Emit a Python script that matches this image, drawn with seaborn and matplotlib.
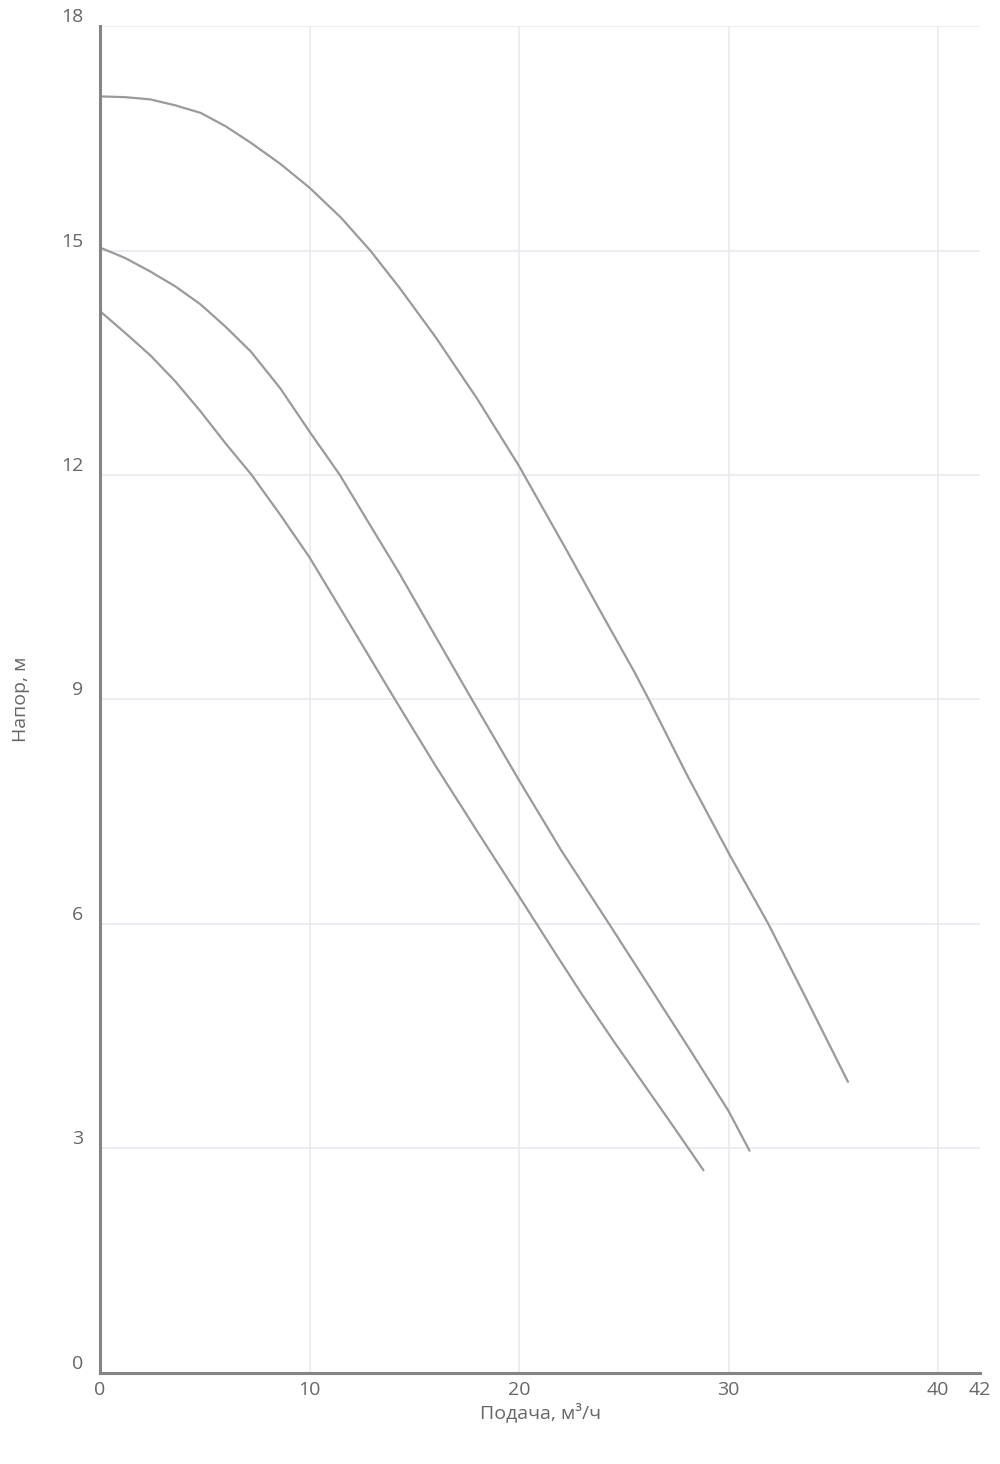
import pandas as pd
import seaborn as sns
import matplotlib.pyplot as plt

# values (flow m3/h, head m)
q_top = [0, 1.2, 2.4, 3.6, 4.8, 6, 7.2, 8.6, 10, 11.5, 12.9, 14.3, 16, 18, 20,
         22.3, 23.9, 25.5, 26.25, 28, 30, 31.9, 33.8, 35.7]
h_top = [17.06, 17.05, 17.02, 16.94, 16.84, 16.66, 16.44, 16.16, 15.84, 15.44, 15.0, 14.5,
         13.85, 13.02, 12.12, 10.98, 10.17, 9.37, 8.97, 8.0, 6.95, 6.0, 4.95, 3.89]

q_mid = [0, 1.2, 2.4, 3.6, 4.8, 6, 7.2, 8.6, 10, 11.45, 13, 14.3, 16, 17.75,
         20, 22, 24.3, 26, 28.2, 30, 31.0]
h_mid = [15.04, 14.9, 14.72, 14.52, 14.28, 13.98, 13.65, 13.16, 12.58, 12.0, 11.28, 10.68,
         9.85, 9.0, 7.92, 6.99, 6.0, 5.26, 4.3, 3.5, 2.97]

q_low = [0, 1.2, 2.4, 3.6, 4.8, 6, 7.24, 8.6, 10, 12, 14.08, 16, 18, 20,
         21.5, 23, 24.5, 26, 27.4, 28.8]
h_low = [14.19, 13.9, 13.6, 13.25, 12.85, 12.42, 12.0, 11.47, 10.9, 9.97, 9.0, 8.12,
         7.24, 6.37, 5.71, 5.06, 4.44, 3.84, 3.28, 2.71]

x_ticks = [0, 10, 20, 30, 40, 42]
y_ticks = [0, 3, 6, 9, 12, 15, 18]

df = pd.concat([
    pd.DataFrame({"q": q_top, "h": h_top, "curve": "top"}),
    pd.DataFrame({"q": q_mid, "h": h_mid, "curve": "mid"}),
    pd.DataFrame({"q": q_low, "h": h_low, "curve": "low"}),
])

sns.set_style("white")
plt.rcParams["font.family"] = ["Open Sans", "DejaVu Sans"]

fig = plt.figure(figsize=(10, 14.64), dpi=100)
ax = fig.add_axes([0.10, 0.0622, 0.88, 0.92])

sns.lineplot(data=df, x="q", y="h", units="curve", estimator=None, sort=False,
             color="#9a9a9a", linewidth=1.6, ax=ax)

ax.set_xlim(0, 42)
ax.set_ylim(0, 18)
ax.set_xticks(x_ticks)
ax.set_yticks(y_ticks)
ax.grid(True, color="#e6e8f0", linewidth=1.1)
ax.get_xgridlines()[-1].set_visible(False)
ax.set_axisbelow(True)

for s in ["top", "right"]:
    ax.spines[s].set_visible(False)
for s in ["left", "bottom"]:
    ax.spines[s].set_color("#858585")
    ax.spines[s].set_linewidth(2.2)

ax.tick_params(axis="both", colors="#a0a0a0", labelcolor="#666666", labelsize=14,
               width=1, direction="out")
ax.tick_params(axis="y", length=6, pad=6)
ax.tick_params(axis="x", length=4, pad=2)
for lbl in ax.get_yticklabels():
    lbl.set_verticalalignment("bottom")

ax.set_xlabel("Подача, м³/ч", fontsize=14, color="#666666", labelpad=2)
ax.set_ylabel("Напор, м", fontsize=14, color="#666666", labelpad=22)

fig.savefig("out.png", dpi=100, facecolor="white")
